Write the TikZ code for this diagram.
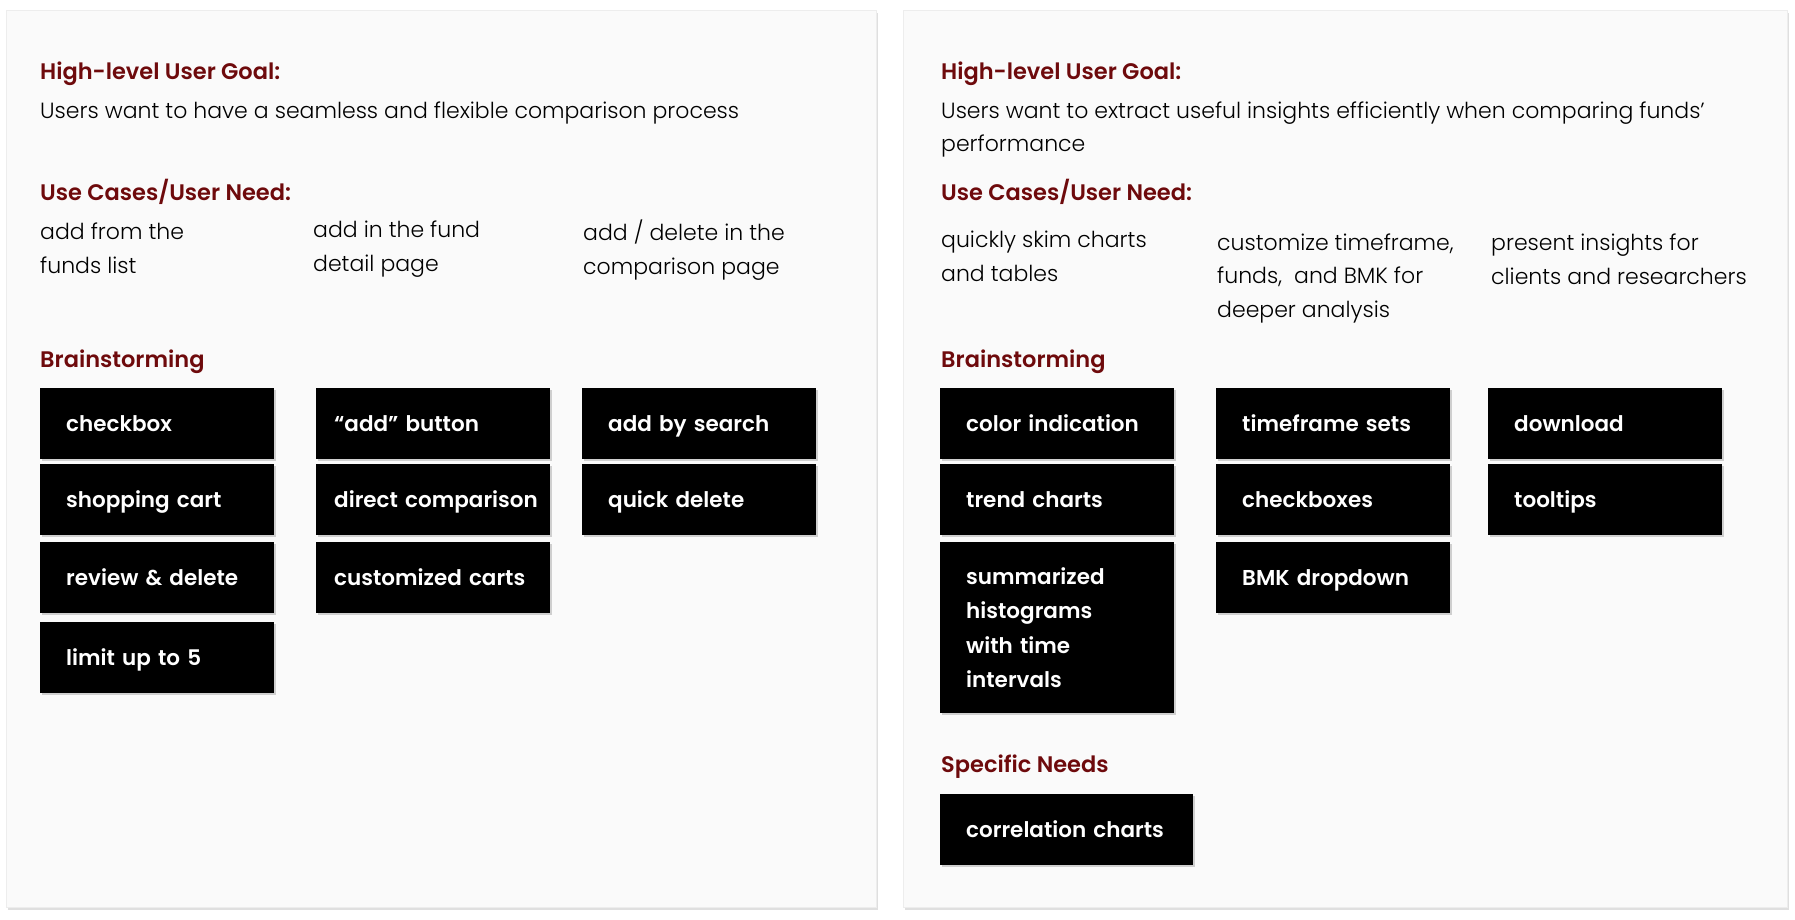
\documentclass[tikz,border=0pt]{standalone}
\usepackage{fontspec}
\IfFontExistsTF{Poppins Light}{\setmainfont{Poppins Light}[BoldFont=Poppins SemiBold]}{\setmainfont{Poppins}}
\usetikzlibrary{shadows}
\definecolor{goalred}{RGB}{110,10,12}
\definecolor{panelgray}{RGB}{250,250,250}
\begin{document}
\begin{tikzpicture}[x=1pt,y=-1pt,
    panel/.style={draw=black!7, fill=panelgray, drop shadow={shadow xshift=1.5pt, shadow yshift=-2.5pt, opacity=.25}},
    head/.style={anchor=base west, inner sep=0pt, text=goalred, font=\bfseries\fontsize{22.5}{26}\selectfont},
    body/.style={anchor=base west, inner sep=0pt, align=left, font=\fontsize{22}{34}\selectfont},
    idea/.style={anchor=north west, fill=black, text=white, minimum height=71pt, text width=182pt, inner xsep=26pt,
        align=left, text height=16pt, text depth=0pt, font=\bfseries\fontsize{21.5}{34.6}\selectfont,
        drop shadow={shadow xshift=2pt, shadow yshift=-2pt, opacity=.35}}]
    \useasboundingbox (0,0) rectangle (1795,919);
    \node[panel, minimum width=870pt, minimum height=897pt, anchor=north west, inner sep=0pt] (pl) at (6,10) {};
    \node[panel, minimum width=884pt, minimum height=897pt, anchor=north west, inner sep=0pt] (pr) at (903,10) {};

    % left board (multi-line texts sit on their last line)
    \node[head] (gl) at (40,79) {High-level User Goal:};
    \node[body] (gtl) at (40,118) {Users want to have a seamless and flexible comparison process};
    \node[head] (ul) at (40,200) {Use Cases/User Need:};
    \node[body] (ul1) at (40,273) {add from the\\funds list};
    \node[body] (ul2) at (313,271) {add in the fund\\detail page};
    \node[body] (ul3) at (583,274) {add / delete in the\\comparison page};
    \node[head] (bl) at (40,367) {Brainstorming};
    \node[idea] (a1) at (40,388) {checkbox};
    \node[idea] (a2) at (40,464) {shopping cart};
    \node[idea] (a3) at (40,542) {review \& delete};
    \node[idea] (a4) at (40,622) {limit up to 5};
    \node[idea, inner xsep=18pt, text width=198pt] (b1) at (316,388) {``add'' button};
    \node[idea, inner xsep=18pt, text width=198pt] (b2) at (316,464) {\mbox{direct comparison}};
    \node[idea, inner xsep=18pt, text width=198pt] (b3) at (316,542) {\mbox{customized carts}};
    \node[idea] (c1) at (582,388) {add by search};
    \node[idea] (c2) at (582,464) {quick delete};

    % right board
    \node[head] (gr) at (941,79) {High-level User Goal:};
    \node[body, font=\fontsize{22}{33}\selectfont] (gtr) at (941,151) {Users want to extract useful insights efficiently when comparing funds'\\performance};
    \node[head] (ur) at (941,200) {Use Cases/User Need:};
    \node[body] (ur1) at (941,281) {quickly skim charts\\and tables};
    \node[body, font=\fontsize{22}{33.5}\selectfont] (ur2) at (1217,317) {customize timeframe,\\funds,~ and BMK for\\deeper analysis};
    \node[body] (ur3) at (1491,284) {present insights for\\clients and researchers};
    \node[head] (br) at (941,367) {Brainstorming};
    \node[idea] (d1) at (940,388) {color indication};
    \node[idea] (d2) at (940,464) {trend charts};
    \node[idea, minimum height=171pt, text height={}, text depth={}] (d3) at (940,542) {summarized\\histograms\\with time\\intervals};
    \node[idea] (e1) at (1216,388) {\mbox{timeframe sets}};
    \node[idea] (e2) at (1216,464) {checkboxes};
    \node[idea] (e3) at (1216,542) {\mbox{BMK dropdown}};
    \node[idea] (f1) at (1488,388) {download};
    \node[idea] (f2) at (1488,464) {tooltips};
    \node[head] (sr) at (941,772) {Specific Needs};
    \node[idea, text width=201pt] (g1) at (940,794) {correlation charts};
\end{tikzpicture}
\end{document}
